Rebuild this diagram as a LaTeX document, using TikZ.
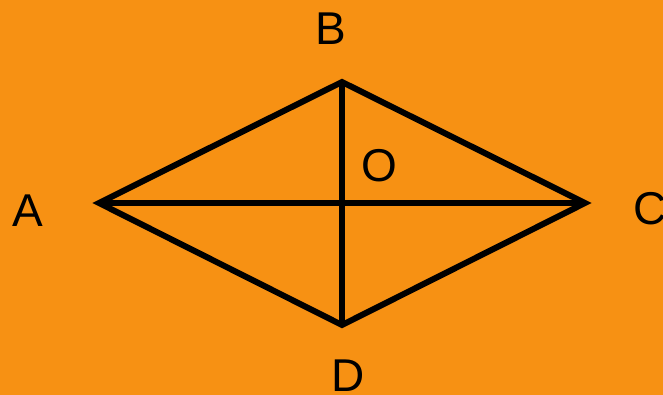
\documentclass[tikz,border=0pt]{standalone}
\usepackage{fontspec}
\setmainfont{Liberation Sans}
\definecolor{bgorange}{HTML}{F79113}
\begin{document}
\begin{tikzpicture}[x=1pt,y=-1pt,
  edge/.style={draw=black,line width=6pt,line join=miter},
  lbl/.style={font=\fontsize{46}{46}\selectfont,inner sep=0pt,anchor=base,text=black}]
\fill[bgorange] (0,0) rectangle (663,395);
\useasboundingbox (0,0) rectangle (663,395);
\coordinate (A) at (99,203);
\coordinate (B) at (342,82);
\coordinate (C) at (585,203);
\coordinate (D) at (342,325);
\draw[edge] (A) -- (B) -- (C) -- (D) -- cycle;
\draw[edge] (A) -- (C);
\draw[edge] (B) -- (D);
\node[lbl] (lA) at (28,226) {A};
\node[lbl] (lB) at (331,45) {B};
\node[lbl] (lC) at (650,225) {C};
\node[lbl] (lD) at (348,391) {D};
\node[lbl] (lO) at (379,182) {O};
\end{tikzpicture}
\end{document}
